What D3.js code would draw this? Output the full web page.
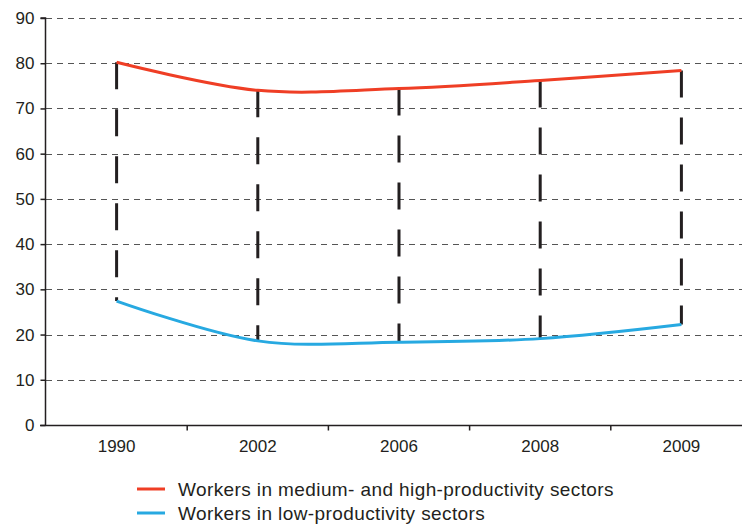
<!DOCTYPE html>
<html>
<head>
<meta charset="utf-8">
<script src="https://cdn.jsdelivr.net/npm/d3@7"></script>
<style>
  html, body { margin: 0; padding: 0; background: #fff; }
  svg { display: block; font-family: "Liberation Sans", Arial, sans-serif; }
</style>
</head>
<body>
<svg id="chart" width="742" height="525"></svg>
<script>
// Share of workers by sector productivity (%)
const years = ["1990", "2002", "2006", "2008", "2009"];
const highProd = [80.2, 74.0, 74.4, 76.2, 78.4];
const lowProd = [27.4, 18.6, 18.3, 19.1, 22.2];
const yTicks = [0, 10, 20, 30, 40, 50, 60, 70, 80, 90];
const seriesNames = [
  "Workers in medium- and high-productivity sectors",
  "Workers in low-productivity sectors"
];
const seriesColors = ["#ef3e25", "#27a9e1"];

const svg = d3.select("#chart");
const plotBottom = 425;

const x = d3.scaleBand().domain(years).range([46, 46 + 141.2 * years.length]).padding(0);
const y = d3.scaleLinear().domain([0, 90]).range([plotBottom, 18]);

// Horizontal dashed gridlines
svg.append("g")
  .selectAll("line")
  .data(yTicks.filter(d => d > 0))
  .join("line")
  .attr("x1", 46).attr("x2", 742)
  .attr("y1", d => Math.round(y(d)) + 0.5).attr("y2", d => Math.round(y(d)) + 0.5)
  .attr("stroke", "#555")
  .attr("stroke-width", 1)
  .attr("stroke-dasharray", "6,5");

// Y axis
const yAxis = svg.append("g")
  .attr("transform", "translate(45.5,0)")
  .call(d3.axisLeft(y).tickValues(yTicks).tickSize(5).tickPadding(6));
yAxis.attr("font-size", null).attr("font-family", null);
yAxis.select(".domain").attr("stroke", "#231f20").attr("stroke-width", 1.5)
  .attr("d", `M-5,${y(90)}H0V${plotBottom}`);
yAxis.selectAll(".tick line").attr("stroke", "#231f20").attr("stroke-width", 1.5);
yAxis.selectAll(".tick text")
  .style("font-size", "17px")
  .attr("fill", "#231f20");

// X axis with ticks at the band boundaries
const xAxisG = svg.append("g").attr("transform", `translate(0,${plotBottom + 0.5})`);
xAxisG.append("line")
  .attr("x1", 40).attr("x2", 742)
  .attr("stroke", "#231f20").attr("stroke-width", 1.5);
xAxisG.selectAll("line.tk")
  .data(years)
  .join("line")
  .attr("class", "tk")
  .attr("x1", d => x(d) + x.bandwidth()).attr("x2", d => x(d) + x.bandwidth())
  .attr("y1", 0).attr("y2", 5)
  .attr("stroke", "#231f20").attr("stroke-width", 1.5);
xAxisG.selectAll("text")
  .data(years)
  .join("text")
  .attr("x", d => x(d) + x.bandwidth() / 2)
  .attr("y", 26)
  .attr("text-anchor", "middle")
  .style("font-size", "17px")
  .attr("fill", "#231f20")
  .text(d => d);

const cx = d => x(d) + x.bandwidth() / 2;

// Vertical dashed drop lines between the two series
svg.append("g")
  .selectAll("line")
  .data(years)
  .join("line")
  .attr("x1", d => cx(d)).attr("x2", d => cx(d))
  .attr("y1", (d, i) => y(highProd[i])).attr("y2", (d, i) => y(lowProd[i]))
  .attr("stroke", "#231f20")
  .attr("stroke-width", 3)
  .attr("stroke-dasharray", "27,20");

// Smooth series lines
const line = d3.line()
  .x(d => cx(d.year))
  .y(d => y(d.value))
  .curve(d3.curveCatmullRom.alpha(0.5));

[highProd, lowProd].forEach((vals, k) => {
  svg.append("path")
    .datum(years.map((yr, i) => ({ year: yr, value: vals[i] })))
    .attr("d", line)
    .attr("fill", "none")
    .attr("stroke", seriesColors[k])
    .attr("stroke-width", 3)
    .attr("stroke-linecap", "butt");
});

// Legend
const legend = svg.append("g");
seriesNames.forEach((name, k) => {
  const ly = 489 + k * 24;
  legend.append("line")
    .attr("x1", 137).attr("x2", 165)
    .attr("y1", ly).attr("y2", ly)
    .attr("stroke", seriesColors[k]).attr("stroke-width", 3);
  legend.append("text")
    .attr("x", 178).attr("y", ly + 6.5)
    .style("font-size", "19px")
    .style("letter-spacing", "0.4px")
    .attr("fill", "#231f20")
    .text(name);
});
</script>
</body>
</html>
